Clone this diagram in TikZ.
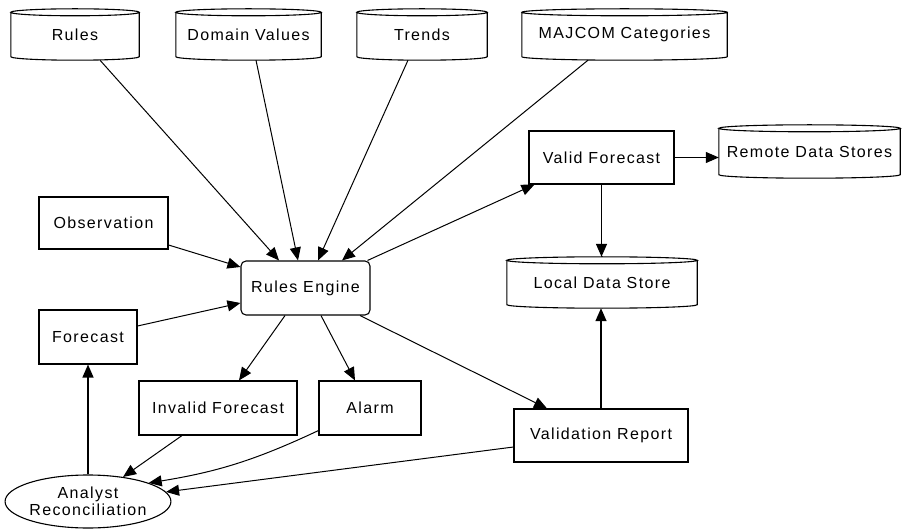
\documentclass[tikz,border=0pt]{standalone}
\usepackage{fontspec}
\setmainfont{Liberation Sans}[LetterSpace=8.5]
\usetikzlibrary{arrows.meta,calc,shapes.geometric}
\begin{document}
\begin{tikzpicture}[x=1pt,y=-1pt,
  every node/.style={font=\fontsize{16}{17}\selectfont, inner sep=0pt, align=center},
  box/.style={draw, line width=1.1pt, minimum height=#1},
  box/.default=53,
  dbnode/.style={minimum height=51},
  conn/.style={line width=1pt, -{Triangle[length=13pt,width=11pt]}},
  vconn/.style={line width=1.4pt, -{Triangle[length=13pt,width=11pt]}}
]
\path[fill=white] (0,0) rectangle (902,529);
\useasboundingbox (0,0) rectangle (902,529);

% data stores
\node[dbnode, minimum width=128] (rules) at (75,34.5) {Rules};
\node[dbnode, minimum width=145] (dv) at (248.5,34.5) {Domain Values};
\node[dbnode, minimum width=130] (trends) at (422,34.5) {Trends};
\node[dbnode, minimum width=205] (majcom) at (624.5,34.5) {MAJCOM Categories};
\node[dbnode, minimum width=181, minimum height=53] (remote) at (809.5,151.5) {Remote Data Stores};
\node[dbnode, minimum width=190] (local) at (602,282.5) {Local Data Store};
\foreach \c in {rules,dv,trends,majcom,remote,local}{
  \draw[line width=1.1pt] let \p1=(\c.north west), \p2=(\c.south east), \n1={(\x2-\x1)/2} in
    (\x1,\y1-3.5pt) -- (\x1,\y2+3.5pt)
    arc[start angle=180, end angle=360, x radius=\n1, y radius=3.5pt]
    -- (\x2,\y1-3.5pt)
    ([yshift=-3.5pt]\c.north) ellipse[x radius=\n1, y radius=3.5pt];
}

% processes
\node[box, minimum width=145] (valid) at (601.5,157.5) {Valid Forecast};
\node[draw, line width=1.1pt, rounded corners=5pt, minimum width=129, minimum height=54] (re) at (305.5,288) {Rules Engine};
\node[box=52, minimum width=129] (obs) at (103.5,223) {Observation};
\node[box=54, minimum width=98] (fc) at (88,337) {Forecast};
\node[box=54, minimum width=158] (inv) at (218,408) {Invalid Forecast};
\node[box=54, minimum width=102] (alarm) at (370,408) {Alarm};
\node[box, minimum width=174] (vr) at (601,435.5) {Validation Report};
\node[draw, line width=1.1pt, ellipse, minimum width=159, minimum height=53] (ar) at (88,501.5) {Analyst\\Reconciliation};

% connectors into the rules engine
\draw[conn] ([xshift=25pt]rules.south) -- ([xshift=-26.5pt]re.north);
\draw[conn] ([xshift=7.5pt]dv.south) -- ([xshift=-7.5pt]re.north);
\draw[conn] ([xshift=-14pt]trends.south) -- ([xshift=12.5pt]re.north);
\draw[conn] ([xshift=-36.5pt]majcom.south) -- ([xshift=36.5pt]re.north);
\draw[conn] ([yshift=-22pt]obs.east) -- ([yshift=21pt]re.west);
\draw[conn] ([yshift=11pt]fc.east) -- ([yshift=-15pt]re.west);

% out of the rules engine
\draw[conn] ([xshift=-3pt]re.north east) -- ([xshift=6pt]valid.south west);
\draw[conn] ([xshift=-20.5pt]re.south) -- ([xshift=21pt]inv.north);
\draw[conn] ([xshift=15.5pt]re.south) -- ([xshift=-15pt]alarm.north);
\draw[conn] ([xshift=54.5pt]re.south) -- ([xshift=-54pt]vr.north);

% stores
\draw[conn] (valid.east) -- (valid.east -| remote.west);
\draw[vconn] (valid.south) -- (valid.south |- local.north);
\draw[vconn] (vr.north) -- (vr.north |- local.south);

% reconciliation
\draw[vconn] (ar.north) -- (ar.north |- fc.south);
\draw[conn] ([xshift=-36pt]inv.south) -- (ar.35);
\draw[conn] ([yshift=5pt]alarm.south west) to[bend left=8] (ar.17);
\draw[conn] ([yshift=-11.5pt]vr.west) -- (ar.7);
\end{tikzpicture}
\end{document}
